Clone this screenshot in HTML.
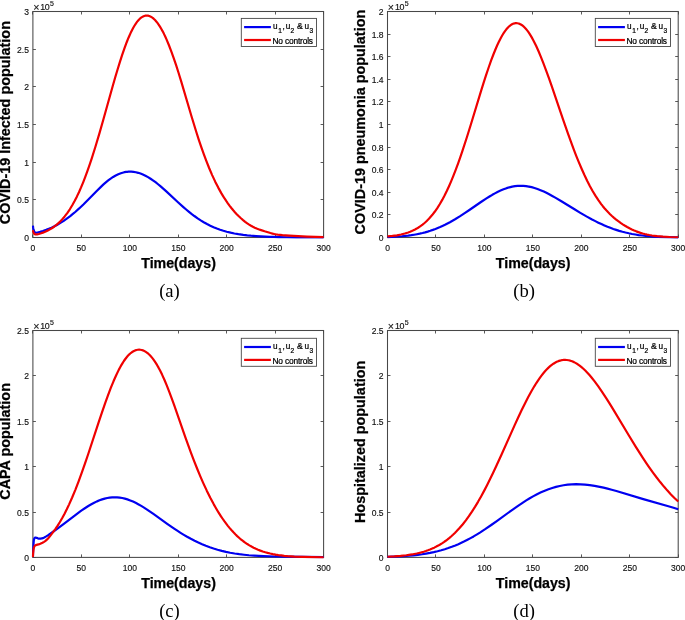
<!DOCTYPE html>
<html><head><meta charset="utf-8"><style>
html,body{margin:0;padding:0;background:#fff;}
svg{display:block;will-change:transform;}
text{font-family:"Liberation Sans",sans-serif;fill:#000;}
.tk{font-size:8.9px;fill:#111;stroke:#111;stroke-width:0.15px;}
.lab{font-size:14.2px;font-weight:bold;stroke:#000;stroke-width:0.25px;}
.yl{font-size:14.4px;}
.cap{font-family:"Liberation Serif",serif;font-size:18.6px;}
.lg{font-size:8px;fill:#000;stroke:#000;stroke-width:0.22px;}
</style></head><body>
<svg width="685" height="620" viewBox="0 0 685 620">
<rect width="685" height="620" fill="#fff"/>
<path d="M32.50,237.5v-3.0M32.50,11.5v3.0M81.50,237.5v-3.0M81.50,11.5v3.0M129.50,237.5v-3.0M129.50,11.5v3.0M178.50,237.5v-3.0M178.50,11.5v3.0M226.50,237.5v-3.0M226.50,11.5v3.0M275.50,237.5v-3.0M275.50,11.5v3.0M323.50,237.5v-3.0M323.50,11.5v3.0M32.9,237.50h3.0M323.6,237.50h-3.0M32.9,199.50h3.0M323.6,199.50h-3.0M32.9,162.50h3.0M323.6,162.50h-3.0M32.9,124.50h3.0M323.6,124.50h-3.0M32.9,86.50h3.0M323.6,86.50h-3.0M32.9,49.50h3.0M323.6,49.50h-3.0M32.9,11.50h3.0M323.6,11.50h-3.0" stroke="#474747" stroke-width="0.9" fill="none"/>
<rect x="32.9" y="11.5" width="290.70" height="226.00" fill="none" stroke="#474747" stroke-width="1.05"/>
<clipPath id="clipa"><rect x="31.7" y="10.3" width="293.10" height="228.40"/></clipPath>
<g clip-path="url(#clipa)" fill="none" stroke-width="2.2" stroke-linejoin="round" stroke-linecap="butt">
<path d="M32.90,225.72 L33.10,227.26 L33.40,228.99 L33.70,230.22 L34.10,231.32 L34.50,231.99 L35.00,232.46 L35.60,232.70 L36.30,232.76 L36.90,232.70 L37.70,232.55 L40.10,231.92 L42.90,231.05 L46.18,229.89 L48.75,228.86 L51.56,227.64 L54.37,226.28 L56.95,224.92 L59.29,223.59 L61.63,222.17 L63.74,220.80 L66.08,219.19 L68.18,217.65 L70.53,215.86 L72.87,213.97 L75.21,212.00 L79.19,208.44 L83.64,204.21 L87.85,200.00 L96.98,190.69 L101.43,186.34 L103.77,184.18 L106.11,182.14 L108.22,180.42 L110.32,178.84 L113.13,176.95 L115.71,175.46 L118.28,174.20 L120.86,173.20 L123.43,172.45 L124.61,172.19 L126.01,171.94 L127.18,171.80 L128.58,171.69 L131.16,171.67 L133.50,171.86 L135.84,172.25 L138.18,172.82 L140.52,173.57 L142.87,174.50 L145.44,175.72 L148.02,177.13 L150.59,178.73 L152.93,180.32 L155.51,182.22 L158.08,184.25 L160.66,186.40 L166.04,191.16 L177.98,202.24 L183.37,207.09 L186.18,209.51 L188.99,211.84 L191.80,214.07 L194.37,216.01 L197.65,218.34 L200.69,220.34 L203.73,222.20 L207.01,224.03 L210.29,225.70 L213.57,227.19 L216.85,228.53 L220.12,229.72 L223.40,230.77 L226.68,231.70 L230.66,232.67 L234.40,233.47 L238.38,234.18 L243.30,234.91 L247.28,235.39 L250.79,235.70 L255.94,236.04 L269.99,236.79 L273.97,236.96 L278.88,237.10 L286.84,237.26 L296.68,237.36 L323.60,237.50" stroke="#0000f0"/>
<path d="M32.90,230.32 L33.20,231.55 L33.50,232.45 L33.90,233.27 L34.30,233.80 L34.80,234.18 L35.40,234.39 L36.10,234.45 L37.00,234.36 L38.80,233.96 L41.20,233.25 L42.90,232.66 L45.71,231.52 L47.82,230.52 L49.92,229.39 L51.80,228.26 L53.67,227.01 L55.07,225.97 L56.48,224.86 L57.88,223.65 L59.29,222.36 L60.69,220.97 L62.10,219.47 L64.67,216.46 L67.25,213.06 L69.82,209.26 L72.40,205.02 L74.74,200.79 L76.85,196.65 L78.95,192.19 L81.06,187.42 L83.17,182.32 L85.27,176.91 L87.38,171.20 L89.49,165.18 L91.60,158.88 L95.34,147.03 L99.56,132.87 L103.30,119.74 L112.67,86.26 L115.24,77.31 L117.35,70.19 L119.92,61.82 L122.26,54.62 L124.61,47.86 L126.71,42.22 L128.12,38.71 L129.29,35.95 L130.69,32.85 L131.86,30.44 L133.27,27.78 L134.44,25.75 L135.84,23.55 L137.01,21.91 L138.42,20.20 L139.59,18.97 L140.76,17.94 L141.93,17.09 L143.10,16.43 L144.27,15.95 L145.44,15.67 L146.14,15.58 L146.85,15.56 L148.02,15.68 L149.19,15.98 L150.36,16.45 L151.53,17.10 L152.70,17.92 L153.87,18.91 L155.04,20.06 L156.44,21.66 L157.61,23.16 L158.79,24.82 L159.96,26.63 L161.36,29.00 L162.53,31.12 L163.94,33.87 L165.11,36.30 L166.51,39.40 L168.85,44.98 L171.19,51.04 L173.53,57.56 L176.11,65.20 L178.45,72.50 L181.26,81.63 L191.56,116.47 L196.24,131.78 L198.82,139.80 L201.39,147.46 L203.97,154.72 L206.31,160.97 L209.12,168.02 L212.16,175.10 L215.21,181.63 L218.25,187.61 L221.29,193.10 L222.93,195.85 L224.57,198.47 L226.21,200.96 L227.85,203.33 L229.49,205.58 L231.36,208.00 L233.23,210.29 L235.11,212.43 L236.98,214.44 L239.09,216.55 L240.96,218.29 L243.07,220.11 L245.17,221.80 L247.28,223.34 L249.15,224.60 L251.03,225.75 L252.90,226.78 L254.77,227.70 L256.64,228.51 L258.52,229.23 L261.09,230.12 L264.60,231.26 L270.46,233.00 L272.56,233.57 L274.44,234.01 L276.08,234.33 L277.71,234.59 L282.40,235.14 L285.67,235.43 L289.42,235.68 L306.98,236.57 L315.41,236.89 L323.60,237.10" stroke="#f00000"/>
</g>
<text transform="translate(32.90,250.70) scale(0.96,1.0)" text-anchor="middle" class="tk">0</text>
<text transform="translate(81.35,250.70) scale(0.96,1.0)" text-anchor="middle" class="tk">50</text>
<text transform="translate(129.80,250.70) scale(0.96,1.0)" text-anchor="middle" class="tk">100</text>
<text transform="translate(178.25,250.70) scale(0.96,1.0)" text-anchor="middle" class="tk">150</text>
<text transform="translate(226.70,250.70) scale(0.96,1.0)" text-anchor="middle" class="tk">200</text>
<text transform="translate(275.15,250.70) scale(0.96,1.0)" text-anchor="middle" class="tk">250</text>
<text transform="translate(323.60,250.70) scale(0.96,1.0)" text-anchor="middle" class="tk">300</text>
<text transform="translate(29.00,241.00) scale(0.96,1.0)" text-anchor="end" class="tk">0</text>
<text transform="translate(29.00,203.33) scale(0.96,1.0)" text-anchor="end" class="tk">0.5</text>
<text transform="translate(29.00,165.67) scale(0.96,1.0)" text-anchor="end" class="tk">1</text>
<text transform="translate(29.00,128.00) scale(0.96,1.0)" text-anchor="end" class="tk">1.5</text>
<text transform="translate(29.00,90.33) scale(0.96,1.0)" text-anchor="end" class="tk">2</text>
<text transform="translate(29.00,52.67) scale(0.96,1.0)" text-anchor="end" class="tk">2.5</text>
<text transform="translate(29.00,15.00) scale(0.96,1.0)" text-anchor="end" class="tk">3</text>
<text x="33.20" y="10.90" class="tk" style="font-size:10.6px">×</text>
<text x="40.30" y="9.70" class="tk" style="font-size:8.9px;letter-spacing:-0.4px">10</text>
<text x="50.10" y="5.90" class="tk" style="font-size:7px">5</text>
<text x="178.55" y="268.40" text-anchor="middle" class="lab">Time(days)</text>
<text transform="translate(10.3,122.6) rotate(-90)" text-anchor="middle" class="lab yl">COVID-19 Infected population</text>
<text x="169.50" y="297.10" text-anchor="middle" class="cap">(a)</text>
<rect x="241.30" y="18.40" width="75.20" height="28.10" fill="#fff" stroke="#474747" stroke-width="0.9"/>
<path d="M244.10,27.10h26.8" stroke="#0000f0" stroke-width="2.2"/>
<path d="M244.10,40.00h26.8" stroke="#f00000" stroke-width="2.2"/>
<text x="272.90" y="29.40" class="lg" style="font-size:8.2px">u</text>
<text x="278.20" y="33.40" class="lg" style="font-size:6.6px">1</text>
<text x="282.40" y="29.40" class="lg" style="font-size:8.2px">,</text>
<text x="285.70" y="29.40" class="lg" style="font-size:8.2px">u</text>
<text x="290.60" y="33.40" class="lg" style="font-size:6.6px">2</text>
<text x="297.00" y="29.40" class="lg" style="font-size:8.8px">&amp;</text>
<text x="304.50" y="29.40" class="lg" style="font-size:8.2px">u</text>
<text x="309.60" y="33.40" class="lg" style="font-size:6.6px">3</text>
<text x="272.40" y="43.60" class="lg" style="font-size:8.4px;letter-spacing:-0.17px">No controls</text>
<path d="M387.50,237.5v-3.0M387.50,11.5v3.0M435.50,237.5v-3.0M435.50,11.5v3.0M484.50,237.5v-3.0M484.50,11.5v3.0M532.50,237.5v-3.0M532.50,11.5v3.0M581.50,237.5v-3.0M581.50,11.5v3.0M629.50,237.5v-3.0M629.50,11.5v3.0M678.50,237.5v-3.0M678.50,11.5v3.0M387.5,237.50h3.0M678.2,237.50h-3.0M387.5,214.50h3.0M678.2,214.50h-3.0M387.5,192.50h3.0M678.2,192.50h-3.0M387.5,169.50h3.0M678.2,169.50h-3.0M387.5,147.50h3.0M678.2,147.50h-3.0M387.5,124.50h3.0M678.2,124.50h-3.0M387.5,101.50h3.0M678.2,101.50h-3.0M387.5,79.50h3.0M678.2,79.50h-3.0M387.5,56.50h3.0M678.2,56.50h-3.0M387.5,34.50h3.0M678.2,34.50h-3.0M387.5,11.50h3.0M678.2,11.50h-3.0" stroke="#474747" stroke-width="0.9" fill="none"/>
<rect x="387.5" y="11.5" width="290.70" height="226.00" fill="none" stroke="#474747" stroke-width="1.05"/>
<clipPath id="clipb"><rect x="386.3" y="10.3" width="293.10" height="228.40"/></clipPath>
<g clip-path="url(#clipb)" fill="none" stroke-width="2.2" stroke-linejoin="round" stroke-linecap="butt">
<path d="M387.50,237.09 L395.20,236.75 L401.95,236.26 L408.27,235.58 L411.31,235.17 L414.12,234.72 L416.93,234.21 L419.74,233.64 L422.55,232.99 L425.13,232.32 L427.70,231.59 L430.28,230.78 L432.85,229.90 L435.43,228.95 L440.11,227.03 L442.45,225.97 L445.02,224.74 L449.94,222.18 L455.09,219.24 L459.77,216.36 L464.69,213.17 L469.37,210.01 L480.61,202.28 L486.46,198.41 L489.51,196.50 L492.32,194.82 L494.89,193.37 L497.47,192.02 L500.51,190.56 L503.55,189.27 L506.60,188.16 L509.41,187.32 L512.21,186.65 L515.02,186.17 L517.83,185.88 L520.64,185.78 L523.22,185.85 L526.03,186.12 L528.84,186.56 L531.65,187.18 L534.46,187.96 L537.50,188.98 L540.54,190.16 L543.82,191.60 L546.40,192.84 L549.20,194.27 L552.25,195.92 L555.29,197.64 L561.38,201.26 L574.49,209.31 L580.34,212.84 L586.43,216.36 L592.05,219.44 L595.32,221.13 L598.37,222.64 L601.41,224.07 L604.45,225.42 L607.50,226.70 L610.31,227.80 L613.35,228.92 L616.16,229.87 L619.20,230.83 L622.48,231.76 L625.52,232.54 L628.80,233.29 L632.08,233.96 L635.36,234.54 L638.64,235.05 L642.15,235.51 L645.66,235.90 L649.40,236.25 L653.38,236.54 L657.60,236.79 L666.96,237.15 L678.20,237.37" stroke="#0000f0"/>
<path d="M387.50,236.45 L392.40,235.95 L396.90,235.30 L401.01,234.49 L404.76,233.55 L408.27,232.43 L410.14,231.73 L411.78,231.05 L413.42,230.30 L415.06,229.48 L416.70,228.58 L418.10,227.74 L419.74,226.68 L421.15,225.69 L422.55,224.63 L423.95,223.49 L425.36,222.27 L426.76,220.96 L428.17,219.56 L429.57,218.07 L432.15,215.09 L434.72,211.76 L437.30,208.06 L439.87,203.97 L442.22,199.92 L444.56,195.52 L446.90,190.78 L449.00,186.22 L451.11,181.38 L453.45,175.68 L455.79,169.65 L458.13,163.31 L460.24,157.35 L462.35,151.17 L466.80,137.50 L471.01,123.96 L481.08,90.92 L483.65,82.69 L485.99,75.43 L488.57,67.75 L491.14,60.47 L493.49,54.26 L495.83,48.50 L497.23,45.27 L498.64,42.24 L500.04,39.40 L501.21,37.20 L502.62,34.74 L503.79,32.87 L505.19,30.83 L506.36,29.30 L507.77,27.69 L508.94,26.53 L510.11,25.54 L511.28,24.72 L512.45,24.07 L513.62,23.60 L514.79,23.30 L515.49,23.20 L516.19,23.16 L517.37,23.24 L518.54,23.49 L519.71,23.90 L520.88,24.49 L522.05,25.24 L523.22,26.15 L524.39,27.22 L525.79,28.71 L526.96,30.12 L528.13,31.68 L529.30,33.38 L530.71,35.60 L531.88,37.60 L533.28,40.17 L534.69,42.91 L536.09,45.82 L538.44,51.00 L540.78,56.57 L543.35,63.07 L546.16,70.56 L548.74,77.70 L551.55,85.73 L563.02,119.43 L568.17,134.20 L570.98,141.97 L573.55,148.87 L576.13,155.53 L578.47,161.34 L581.51,168.54 L584.32,174.81 L587.13,180.68 L589.94,186.16 L592.75,191.23 L595.56,195.91 L598.37,200.18 L601.18,204.08 L602.82,206.19 L604.69,208.46 L606.33,210.33 L608.20,212.34 L610.07,214.22 L611.95,215.99 L614.05,217.85 L616.16,219.58 L618.27,221.21 L620.61,222.89 L622.72,224.31 L625.06,225.77 L627.16,227.00 L629.50,228.27 L631.85,229.42 L634.19,230.48 L636.29,231.35 L638.40,232.13 L640.51,232.84 L642.62,233.47 L644.72,234.02 L647.06,234.57 L649.40,235.03 L651.98,235.47 L654.55,235.83 L657.13,236.14 L662.98,236.64 L669.77,237.00 L678.20,237.25" stroke="#f00000"/>
</g>
<text transform="translate(387.50,250.70) scale(0.96,1.0)" text-anchor="middle" class="tk">0</text>
<text transform="translate(435.95,250.70) scale(0.96,1.0)" text-anchor="middle" class="tk">50</text>
<text transform="translate(484.40,250.70) scale(0.96,1.0)" text-anchor="middle" class="tk">100</text>
<text transform="translate(532.85,250.70) scale(0.96,1.0)" text-anchor="middle" class="tk">150</text>
<text transform="translate(581.30,250.70) scale(0.96,1.0)" text-anchor="middle" class="tk">200</text>
<text transform="translate(629.75,250.70) scale(0.96,1.0)" text-anchor="middle" class="tk">250</text>
<text transform="translate(678.20,250.70) scale(0.96,1.0)" text-anchor="middle" class="tk">300</text>
<text transform="translate(383.60,241.00) scale(0.96,1.0)" text-anchor="end" class="tk">0</text>
<text transform="translate(383.60,218.40) scale(0.96,1.0)" text-anchor="end" class="tk">0.2</text>
<text transform="translate(383.60,195.80) scale(0.96,1.0)" text-anchor="end" class="tk">0.4</text>
<text transform="translate(383.60,173.20) scale(0.96,1.0)" text-anchor="end" class="tk">0.6</text>
<text transform="translate(383.60,150.60) scale(0.96,1.0)" text-anchor="end" class="tk">0.8</text>
<text transform="translate(383.60,128.00) scale(0.96,1.0)" text-anchor="end" class="tk">1</text>
<text transform="translate(383.60,105.40) scale(0.96,1.0)" text-anchor="end" class="tk">1.2</text>
<text transform="translate(383.60,82.80) scale(0.96,1.0)" text-anchor="end" class="tk">1.4</text>
<text transform="translate(383.60,60.20) scale(0.96,1.0)" text-anchor="end" class="tk">1.6</text>
<text transform="translate(383.60,37.60) scale(0.96,1.0)" text-anchor="end" class="tk">1.8</text>
<text transform="translate(383.60,15.00) scale(0.96,1.0)" text-anchor="end" class="tk">2</text>
<text x="387.80" y="10.90" class="tk" style="font-size:10.6px">×</text>
<text x="394.90" y="9.70" class="tk" style="font-size:8.9px;letter-spacing:-0.4px">10</text>
<text x="404.70" y="5.90" class="tk" style="font-size:7px">5</text>
<text x="533.15" y="268.40" text-anchor="middle" class="lab">Time(days)</text>
<text transform="translate(365.1,122.1) rotate(-90)" text-anchor="middle" class="lab yl">COVID-19 pneumonia population</text>
<text x="524.10" y="297.10" text-anchor="middle" class="cap">(b)</text>
<rect x="595.30" y="18.40" width="75.20" height="28.10" fill="#fff" stroke="#474747" stroke-width="0.9"/>
<path d="M598.10,27.10h26.8" stroke="#0000f0" stroke-width="2.2"/>
<path d="M598.10,40.00h26.8" stroke="#f00000" stroke-width="2.2"/>
<text x="626.90" y="29.40" class="lg" style="font-size:8.2px">u</text>
<text x="632.20" y="33.40" class="lg" style="font-size:6.6px">1</text>
<text x="636.40" y="29.40" class="lg" style="font-size:8.2px">,</text>
<text x="639.70" y="29.40" class="lg" style="font-size:8.2px">u</text>
<text x="644.60" y="33.40" class="lg" style="font-size:6.6px">2</text>
<text x="651.00" y="29.40" class="lg" style="font-size:8.8px">&amp;</text>
<text x="658.50" y="29.40" class="lg" style="font-size:8.2px">u</text>
<text x="663.60" y="33.40" class="lg" style="font-size:6.6px">3</text>
<text x="626.40" y="43.60" class="lg" style="font-size:8.4px;letter-spacing:-0.17px">No controls</text>
<path d="M32.50,557.4v-3.0M32.50,330.5v3.0M81.50,557.4v-3.0M81.50,330.5v3.0M129.50,557.4v-3.0M129.50,330.5v3.0M178.50,557.4v-3.0M178.50,330.5v3.0M226.50,557.4v-3.0M226.50,330.5v3.0M275.50,557.4v-3.0M275.50,330.5v3.0M323.50,557.4v-3.0M323.50,330.5v3.0M32.9,557.50h3.0M323.6,557.50h-3.0M32.9,512.50h3.0M323.6,512.50h-3.0M32.9,466.50h3.0M323.6,466.50h-3.0M32.9,421.50h3.0M323.6,421.50h-3.0M32.9,375.50h3.0M323.6,375.50h-3.0M32.9,330.50h3.0M323.6,330.50h-3.0" stroke="#474747" stroke-width="0.9" fill="none"/>
<rect x="32.9" y="330.5" width="290.70" height="226.90" fill="none" stroke="#474747" stroke-width="1.05"/>
<clipPath id="clipc"><rect x="31.7" y="329.3" width="293.10" height="229.30"/></clipPath>
<g clip-path="url(#clipc)" fill="none" stroke-width="2.2" stroke-linejoin="round" stroke-linecap="butt">
<path d="M32.90,557.10 L33.30,547.38 L33.70,541.31 L33.90,539.95 L34.20,538.72 L34.40,538.30 L34.90,537.79 L35.30,537.61 L35.70,537.62 L36.60,537.83 L37.80,538.34 L38.80,538.59 L39.60,538.70 L40.60,538.64 L41.80,538.44 L42.70,538.13 L44.30,537.41 L46.18,536.39 L47.82,535.36 L52.73,531.99 L58.12,528.16 L63.50,524.14 L75.68,514.83 L78.95,512.41 L82.00,510.23 L85.27,507.99 L88.32,506.04 L91.36,504.24 L94.17,502.73 L96.98,501.37 L99.56,500.28 L102.13,499.35 L104.71,498.58 L107.28,497.98 L109.62,497.59 L112.20,497.33 L114.54,497.25 L117.11,497.34 L119.69,497.60 L122.26,498.04 L124.84,498.64 L127.41,499.41 L130.22,500.42 L133.03,501.61 L136.08,503.07 L138.65,504.43 L141.23,505.91 L144.04,507.61 L147.08,509.57 L153.40,513.90 L167.21,523.80 L173.77,528.36 L177.28,530.70 L180.56,532.81 L183.84,534.83 L187.11,536.75 L190.86,538.83 L194.60,540.77 L198.35,542.57 L202.10,544.24 L205.84,545.77 L209.82,547.25 L213.57,548.51 L217.55,549.72 L221.76,550.85 L225.98,551.85 L230.19,552.71 L234.64,553.50 L239.32,554.19 L244.00,554.77 L248.92,555.27 L254.30,555.69 L258.75,555.96 L263.67,556.19 L274.67,556.51 L283.80,556.64 L323.60,557.03" stroke="#0000f0"/>
<path d="M32.90,557.10 L33.10,553.50 L33.40,550.30 L33.60,549.03 L33.90,547.70 L34.20,546.80 L34.50,546.20 L34.80,545.84 L35.10,545.56 L35.80,545.15 L36.60,544.86 L39.40,544.09 L40.30,543.78 L42.50,542.75 L44.07,541.85 L45.48,540.84 L46.88,539.62 L48.05,538.43 L49.46,536.81 L52.50,532.89 L55.31,529.08 L57.65,525.63 L59.76,522.28 L62.10,518.27 L64.44,513.94 L66.78,509.31 L69.12,504.37 L72.16,497.50 L75.44,489.55 L78.72,481.06 L82.23,471.44 L85.04,463.41 L88.32,453.74 L98.38,423.15 L101.90,412.63 L105.17,403.13 L107.98,395.33 L110.79,387.94 L113.60,381.04 L116.18,375.20 L118.75,369.89 L120.16,367.23 L121.33,365.14 L122.73,362.81 L123.90,361.00 L125.31,359.00 L126.48,357.48 L127.88,355.83 L129.05,354.61 L130.22,353.52 L131.39,352.57 L132.56,351.75 L133.97,350.94 L135.14,350.42 L136.54,349.98 L137.72,349.76 L139.12,349.66 L140.29,349.73 L141.70,349.99 L142.87,350.35 L144.27,350.95 L145.44,351.60 L146.85,352.55 L148.02,353.48 L149.42,354.77 L150.59,355.98 L152.00,357.62 L153.17,359.12 L154.57,361.09 L155.74,362.87 L157.15,365.17 L158.55,367.65 L159.96,370.30 L162.06,374.60 L164.40,379.79 L166.75,385.38 L169.09,391.31 L171.43,397.54 L174.00,404.66 L185.47,437.54 L188.28,445.41 L191.09,453.06 L194.14,461.08 L197.18,468.76 L200.22,476.10 L203.27,483.07 L206.78,490.66 L210.29,497.76 L213.80,504.35 L215.44,507.26 L217.31,510.45 L218.95,513.12 L220.82,516.05 L222.46,518.50 L224.34,521.18 L225.98,523.41 L227.85,525.84 L229.72,528.13 L231.59,530.30 L233.47,532.35 L235.34,534.28 L237.21,536.10 L239.32,538.00 L241.19,539.59 L243.30,541.24 L245.17,542.61 L247.28,544.04 L249.39,545.35 L251.49,546.56 L253.60,547.66 L255.94,548.78 L258.05,549.69 L260.39,550.61 L262.73,551.43 L265.31,552.24 L267.65,552.89 L270.22,553.53 L272.80,554.08 L275.61,554.61 L278.42,555.06 L281.23,555.44 L284.27,555.80 L287.55,556.11 L294.34,556.60 L302.30,556.95 L311.66,557.18 L323.60,557.32" stroke="#f00000"/>
</g>
<text transform="translate(32.90,570.60) scale(0.96,1.0)" text-anchor="middle" class="tk">0</text>
<text transform="translate(81.35,570.60) scale(0.96,1.0)" text-anchor="middle" class="tk">50</text>
<text transform="translate(129.80,570.60) scale(0.96,1.0)" text-anchor="middle" class="tk">100</text>
<text transform="translate(178.25,570.60) scale(0.96,1.0)" text-anchor="middle" class="tk">150</text>
<text transform="translate(226.70,570.60) scale(0.96,1.0)" text-anchor="middle" class="tk">200</text>
<text transform="translate(275.15,570.60) scale(0.96,1.0)" text-anchor="middle" class="tk">250</text>
<text transform="translate(323.60,570.60) scale(0.96,1.0)" text-anchor="middle" class="tk">300</text>
<text transform="translate(29.00,560.90) scale(0.96,1.0)" text-anchor="end" class="tk">0</text>
<text transform="translate(29.00,515.52) scale(0.96,1.0)" text-anchor="end" class="tk">0.5</text>
<text transform="translate(29.00,470.14) scale(0.96,1.0)" text-anchor="end" class="tk">1</text>
<text transform="translate(29.00,424.76) scale(0.96,1.0)" text-anchor="end" class="tk">1.5</text>
<text transform="translate(29.00,379.38) scale(0.96,1.0)" text-anchor="end" class="tk">2</text>
<text transform="translate(29.00,334.00) scale(0.96,1.0)" text-anchor="end" class="tk">2.5</text>
<text x="33.20" y="329.90" class="tk" style="font-size:10.6px">×</text>
<text x="40.30" y="328.70" class="tk" style="font-size:8.9px;letter-spacing:-0.4px">10</text>
<text x="50.10" y="324.90" class="tk" style="font-size:7px">5</text>
<text x="178.55" y="587.60" text-anchor="middle" class="lab">Time(days)</text>
<text transform="translate(10.3,441.4) rotate(-90)" text-anchor="middle" class="lab yl">CAPA population</text>
<text x="169.50" y="617.00" text-anchor="middle" class="cap">(c)</text>
<rect x="241.30" y="338.30" width="75.20" height="28.00" fill="#fff" stroke="#474747" stroke-width="0.9"/>
<path d="M244.10,347.00h26.8" stroke="#0000f0" stroke-width="2.2"/>
<path d="M244.10,359.90h26.8" stroke="#f00000" stroke-width="2.2"/>
<text x="272.90" y="349.30" class="lg" style="font-size:8.2px">u</text>
<text x="278.20" y="353.30" class="lg" style="font-size:6.6px">1</text>
<text x="282.40" y="349.30" class="lg" style="font-size:8.2px">,</text>
<text x="285.70" y="349.30" class="lg" style="font-size:8.2px">u</text>
<text x="290.60" y="353.30" class="lg" style="font-size:6.6px">2</text>
<text x="297.00" y="349.30" class="lg" style="font-size:8.8px">&amp;</text>
<text x="304.50" y="349.30" class="lg" style="font-size:8.2px">u</text>
<text x="309.60" y="353.30" class="lg" style="font-size:6.6px">3</text>
<text x="272.40" y="363.50" class="lg" style="font-size:8.4px;letter-spacing:-0.17px">No controls</text>
<path d="M387.50,557.4v-3.0M387.50,330.5v3.0M435.50,557.4v-3.0M435.50,330.5v3.0M484.50,557.4v-3.0M484.50,330.5v3.0M532.50,557.4v-3.0M532.50,330.5v3.0M581.50,557.4v-3.0M581.50,330.5v3.0M629.50,557.4v-3.0M629.50,330.5v3.0M678.50,557.4v-3.0M678.50,330.5v3.0M387.5,557.50h3.0M678.2,557.50h-3.0M387.5,512.50h3.0M678.2,512.50h-3.0M387.5,466.50h3.0M678.2,466.50h-3.0M387.5,421.50h3.0M678.2,421.50h-3.0M387.5,375.50h3.0M678.2,375.50h-3.0M387.5,330.50h3.0M678.2,330.50h-3.0" stroke="#474747" stroke-width="0.9" fill="none"/>
<rect x="387.5" y="330.5" width="290.70" height="226.90" fill="none" stroke="#474747" stroke-width="1.05"/>
<clipPath id="clipd"><rect x="386.3" y="329.3" width="293.10" height="229.30"/></clipPath>
<g clip-path="url(#clipd)" fill="none" stroke-width="2.2" stroke-linejoin="round" stroke-linecap="butt">
<path d="M387.50,556.89 L393.60,556.67 L399.14,556.40 L404.29,556.09 L408.97,555.73 L413.42,555.31 L417.87,554.80 L422.08,554.24 L426.06,553.61 L430.04,552.89 L433.79,552.11 L437.53,551.23 L441.28,550.24 L444.79,549.20 L448.30,548.06 L451.81,546.81 L455.33,545.44 L458.37,544.16 L461.41,542.78 L464.46,541.32 L467.50,539.77 L470.54,538.14 L473.59,536.42 L476.63,534.61 L479.91,532.59 L485.53,528.93 L491.61,524.75 L497.47,520.58 L511.28,510.56 L518.77,505.32 L522.52,502.82 L526.26,500.42 L529.77,498.29 L533.05,496.40 L537.03,494.28 L541.01,492.34 L544.76,490.69 L548.50,489.22 L552.25,487.95 L555.99,486.86 L559.74,485.97 L563.49,485.26 L567.70,484.69 L571.91,484.34 L576.13,484.21 L580.58,484.29 L585.02,484.58 L589.71,485.10 L594.62,485.85 L599.77,486.84 L603.52,487.67 L607.50,488.64 L611.71,489.74 L616.39,491.05 L643.32,499.09 L668.37,506.20 L673.52,507.77 L678.20,509.30" stroke="#0000f0"/>
<path d="M387.50,556.77 L394.40,556.40 L400.54,555.91 L406.40,555.26 L411.78,554.46 L416.70,553.51 L419.04,552.96 L421.38,552.36 L423.72,551.69 L425.83,551.02 L427.93,550.28 L430.04,549.47 L432.15,548.59 L434.26,547.63 L436.36,546.58 L438.24,545.58 L440.11,544.50 L441.98,543.34 L443.85,542.10 L445.73,540.77 L447.60,539.36 L449.47,537.85 L451.35,536.25 L452.98,534.77 L454.86,532.98 L456.50,531.33 L459.77,527.79 L462.82,524.20 L465.86,520.32 L468.90,516.14 L471.95,511.66 L474.99,506.88 L478.03,501.81 L481.08,496.45 L484.36,490.38 L487.16,484.95 L489.97,479.32 L492.78,473.51 L495.83,467.04 L501.45,454.73 L514.79,424.89 L518.30,417.25 L521.58,410.31 L525.09,403.16 L528.37,396.82 L531.41,391.25 L534.46,386.05 L536.33,383.04 L537.97,380.54 L539.84,377.83 L541.48,375.61 L543.35,373.23 L544.99,371.30 L546.63,369.52 L548.27,367.88 L550.14,366.19 L551.78,364.87 L553.42,363.70 L555.06,362.69 L556.70,361.84 L558.33,361.14 L559.97,360.60 L561.61,360.21 L563.25,359.97 L565.12,359.89 L566.76,359.98 L568.64,360.26 L570.27,360.67 L572.15,361.30 L574.02,362.12 L575.89,363.12 L577.77,364.28 L579.64,365.61 L581.51,367.10 L583.38,368.74 L585.26,370.53 L587.36,372.70 L589.24,374.77 L591.34,377.25 L594.62,381.38 L598.13,386.14 L601.88,391.55 L605.86,397.60 L609.37,403.15 L613.35,409.62 L629.04,435.75 L635.83,446.83 L639.34,452.41 L642.85,457.84 L646.13,462.77 L649.40,467.55 L653.15,472.80 L656.66,477.52 L660.41,482.31 L663.92,486.58 L667.43,490.62 L670.94,494.42 L674.45,497.99 L678.20,501.56" stroke="#f00000"/>
</g>
<text transform="translate(387.50,570.60) scale(0.96,1.0)" text-anchor="middle" class="tk">0</text>
<text transform="translate(435.95,570.60) scale(0.96,1.0)" text-anchor="middle" class="tk">50</text>
<text transform="translate(484.40,570.60) scale(0.96,1.0)" text-anchor="middle" class="tk">100</text>
<text transform="translate(532.85,570.60) scale(0.96,1.0)" text-anchor="middle" class="tk">150</text>
<text transform="translate(581.30,570.60) scale(0.96,1.0)" text-anchor="middle" class="tk">200</text>
<text transform="translate(629.75,570.60) scale(0.96,1.0)" text-anchor="middle" class="tk">250</text>
<text transform="translate(678.20,570.60) scale(0.96,1.0)" text-anchor="middle" class="tk">300</text>
<text transform="translate(383.60,560.90) scale(0.96,1.0)" text-anchor="end" class="tk">0</text>
<text transform="translate(383.60,515.52) scale(0.96,1.0)" text-anchor="end" class="tk">0.5</text>
<text transform="translate(383.60,470.14) scale(0.96,1.0)" text-anchor="end" class="tk">1</text>
<text transform="translate(383.60,424.76) scale(0.96,1.0)" text-anchor="end" class="tk">1.5</text>
<text transform="translate(383.60,379.38) scale(0.96,1.0)" text-anchor="end" class="tk">2</text>
<text transform="translate(383.60,334.00) scale(0.96,1.0)" text-anchor="end" class="tk">2.5</text>
<text x="387.80" y="329.90" class="tk" style="font-size:10.6px">×</text>
<text x="394.90" y="328.70" class="tk" style="font-size:8.9px;letter-spacing:-0.4px">10</text>
<text x="404.70" y="324.90" class="tk" style="font-size:7px">5</text>
<text x="533.15" y="587.60" text-anchor="middle" class="lab">Time(days)</text>
<text transform="translate(365.1,441.9) rotate(-90)" text-anchor="middle" class="lab yl">Hospitalized population</text>
<text x="524.10" y="617.00" text-anchor="middle" class="cap">(d)</text>
<rect x="595.30" y="338.30" width="75.20" height="28.00" fill="#fff" stroke="#474747" stroke-width="0.9"/>
<path d="M598.10,347.00h26.8" stroke="#0000f0" stroke-width="2.2"/>
<path d="M598.10,359.90h26.8" stroke="#f00000" stroke-width="2.2"/>
<text x="626.90" y="349.30" class="lg" style="font-size:8.2px">u</text>
<text x="632.20" y="353.30" class="lg" style="font-size:6.6px">1</text>
<text x="636.40" y="349.30" class="lg" style="font-size:8.2px">,</text>
<text x="639.70" y="349.30" class="lg" style="font-size:8.2px">u</text>
<text x="644.60" y="353.30" class="lg" style="font-size:6.6px">2</text>
<text x="651.00" y="349.30" class="lg" style="font-size:8.8px">&amp;</text>
<text x="658.50" y="349.30" class="lg" style="font-size:8.2px">u</text>
<text x="663.60" y="353.30" class="lg" style="font-size:6.6px">3</text>
<text x="626.40" y="363.50" class="lg" style="font-size:8.4px;letter-spacing:-0.17px">No controls</text>
</svg>
</body></html>
